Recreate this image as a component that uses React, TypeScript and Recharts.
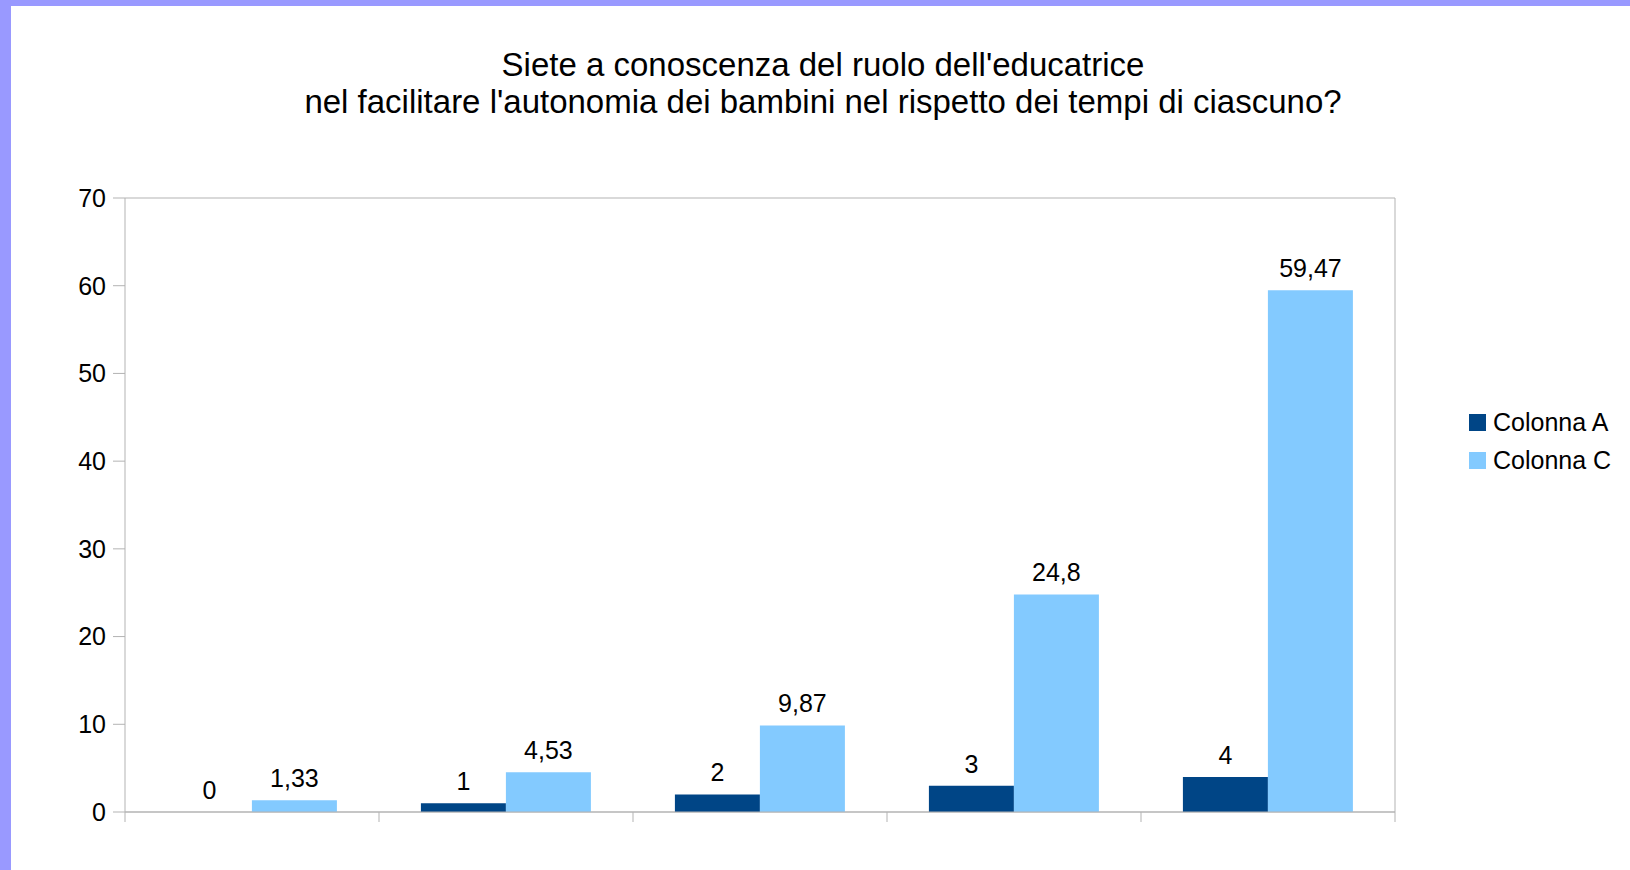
import { BarChart, Bar, XAxis, YAxis, CartesianGrid, Legend, LabelList } from 'recharts';

const categories = ['1', '2', '3', '4', '5'];
const colonnaA = [0, 1, 2, 3, 4];
const colonnaC = [1.33, 4.53, 9.87, 24.8, 59.47];
const yTicks = [0, 10, 20, 30, 40, 50, 60, 70];

const titleLines = [
  'Siete a conoscenza del ruolo dell\'educatrice',
  'nel facilitare l\'autonomia dei bambini nel rispetto dei tempi di ciascuno?',
];

const series = [
  { key: 'a', name: 'Colonna A', color: '#004586' },
  { key: 'c', name: 'Colonna C', color: '#83caff' },
];

const chartData = categories.map((cat, i) => ({ cat, a: colonnaA[i], c: colonnaC[i] }));

const FONT = '"Liberation Sans", Arial, sans-serif';
const GRID = '#b3b3b3';

// tick marks sit on the category boundaries, not the centres
function BoundaryTick(props: any) {
  const { x, y, payload, width } = props;
  const half = payload?.offset ?? width / categories.length / 2;
  const isLast = payload?.value === categories[categories.length - 1];
  return (
    <g>
      <line x1={x - half} x2={x - half} y1={y} y2={y + 10} stroke={GRID} strokeWidth={1} />
      {isLast && <line x1={x + half} x2={x + half} y1={y} y2={y + 10} stroke={GRID} strokeWidth={1} />}
    </g>
  );
}

function LegendBox() {
  return (
    <div style={{ fontFamily: FONT, fontSize: 25, color: '#000' }}>
      {series.map((s) => (
        <div key={s.key} style={{ display: 'flex', alignItems: 'center', height: 37.5, whiteSpace: 'nowrap' }}>
          <span style={{ display: 'inline-block', width: 17, height: 17, background: s.color, marginRight: 7 }} />
          {s.name}
        </div>
      ))}
    </div>
  );
}

const fmt = (v: any) => String(v).replace('.', ',');

// zero-valued bars still need their "0" label
const minSize = (v: any) => (v === 0 ? 0.01 : 0);

export default function App() {
  return (
    <div style={{ position: 'absolute', left: 0, top: 0, width: 1630, height: 870, background: '#fff', overflow: 'hidden' }}>
      <div style={{ position: 'absolute', left: 0, top: 0, width: 1630, height: 6, background: '#9999ff' }} />
      <div style={{ position: 'absolute', left: 0, top: 0, width: 11, height: 870, background: '#9999ff' }} />
      <div
        style={{
          position: 'absolute',
          left: 0,
          top: 46,
          width: 1646,
          textAlign: 'center',
          fontFamily: FONT,
          fontSize: 33,
          lineHeight: '37px',
          color: '#000',
        }}
      >
        {titleLines.map((t) => (
          <div key={t}>{t}</div>
        ))}
      </div>
      <div style={{ position: 'absolute', left: 0, top: 0 }}>
        <BarChart
          width={1630}
          height={870}
          data={chartData}
          margin={{ top: 198, right: 234, bottom: 38, left: 0 }}
          barCategoryGap="16.5%"
          barGap={0}
        >
          <CartesianGrid horizontal vertical={false} stroke={GRID} />
          <XAxis
            dataKey="cat"
            height={20}
            interval={0}
            tickSize={0}
            tickMargin={0}
            tickLine={false}
            axisLine={{ stroke: GRID }}
            tick={<BoundaryTick />}
          />
          <YAxis
            yAxisId="left"
            width={125}
            domain={[0, 70]}
            ticks={yTicks}
            interval={0}
            tickSize={12}
            tickMargin={7}
            axisLine={{ stroke: GRID }}
            tickLine={{ stroke: GRID }}
            tick={{ fill: '#000', fontSize: 25, fontFamily: FONT }}
          />
          <YAxis
            yAxisId="right"
            orientation="right"
            width={1}
            domain={[0, 70]}
            ticks={yTicks}
            tick={false}
            tickLine={false}
            axisLine={{ stroke: GRID }}
          />
          <Legend
            layout="horizontal"
            verticalAlign="middle"
            align="center"
            content={<LegendBox />}
            wrapperStyle={{ left: 1469, top: 404, right: 'auto', width: 'auto' }}
          />
          {series.map((s) => (
            <Bar
              key={s.key}
              yAxisId="left"
              dataKey={s.key}
              name={s.name}
              fill={s.color}
              minPointSize={minSize}
              isAnimationActive={false}
            >
              <LabelList
                dataKey={s.key}
                position="top"
                offset={13}
                formatter={fmt}
                style={{ fill: '#000', fontSize: 25, fontFamily: FONT }}
              />
            </Bar>
          ))}
        </BarChart>
      </div>
    </div>
  );
}
